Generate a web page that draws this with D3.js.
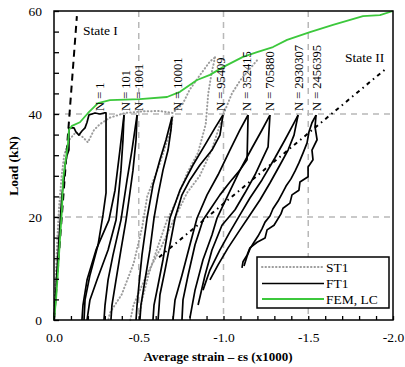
<!DOCTYPE html>
<html><head><meta charset="utf-8">
<script src="https://cdn.jsdelivr.net/npm/d3@7"></script>
<style>
body{margin:0;background:#fff}
svg{display:block}
text{font-family:"Liberation Serif","Times New Roman",serif;fill:#000}
</style>
</head><body>
<svg id="c" width="405" height="367"></svg>
<script>
// ---------- axes / labels ----------
const xTicks=[0,-0.5,-1,-1.5,-2];
const xTickLabels=["0.0","-0.5","-1.0","-1.5","-2.0"];
const yTicks=[0,20,40,60];
const yTickLabels=["0","20","40","60"];
const xGrid=[-0.5,-1,-1.5];
const yGrid=[20,40];

// ---------- reference lines ----------
const stateI=[[0,0],[-0.135,59]];
const stateII=[[-0.62,12.2],[-1.955,48.7]];

// ---------- FEM, LC ----------
const fem=[[0,0],[-0.012,3.9],[-0.024,9.7],[-0.035,15.5],[-0.047,21.4],[-0.053,27.2],[-0.065,30.1],[-0.083,34.4],
 [-0.088,36.9],[-0.106,37.7],[-0.153,38.4],[-0.201,40.2],[-0.260,42.1],[-0.330,42.7],[-0.507,42.9],[-0.667,43.3],
 [-0.743,44.3],[-0.844,46.6],[-0.920,47.6],[-0.997,49.1],[-1.115,51.1],[-1.198,52.0],[-1.292,53.0],[-1.375,54.4],
 [-1.510,55.9],[-1.646,57.3],[-1.823,59.0],[-1.923,59.2],[-2.0,60]];

// ---------- ST1 (static test) ----------
const st1Loading=[[0,0],[-0.005,4],[-0.01,8],[-0.015,12],[-0.02,16],[-0.03,22],[-0.045,28],[-0.06,32],[-0.09,35],
 [-0.13,36.5],[-0.17,35.5],[-0.2,34.5],[-0.236,36.9],[-0.27,38],[-0.33,39.3],[-0.42,40.2],[-0.52,40.5],[-0.62,40.6],
 [-0.70,40.2],[-0.76,42],[-0.80,44.7],[-0.86,47.5],[-0.92,50.2],[-0.95,51.0]];
const st1Unload1=[[-0.70,39.5],[-0.69,37],[-0.62,30],[-0.55,24],[-0.52,18],[-0.47,11],[-0.40,5],[-0.33,1.4],[-0.32,0]];
const st1Reload1=[[-0.45,0],[-0.47,3],[-0.55,9],[-0.63,14],[-0.70,19],[-0.785,24.7],[-0.86,28],[-0.93,33],[-1.0,40],
 [-1.05,44],[-1.10,46.6],[-1.20,50.5]];
const st1Unload2=[[-0.95,51.0],[-0.93,48],[-0.91,44],[-0.895,38],[-0.85,32.5],[-0.785,28.5],[-0.72,23],[-0.667,19.4],
 [-0.61,14],[-0.56,9],[-0.52,4],[-0.50,0]];

// ---------- FT1 (fatigue test) ----------
const ft1First=[[0,0],[-0.006,2.9],[-0.012,5.8],[-0.018,9.7],[-0.024,12.6],[-0.029,15.5],[-0.035,18.4],[-0.041,21.4],
 [-0.047,24.3],[-0.059,27.2],[-0.065,30.1],[-0.077,32.0],[-0.088,33.0],[-0.088,37.3],[-0.118,37.3],[-0.130,36.5],
 [-0.147,35.9],[-0.165,36.7],[-0.183,37.3],[-0.195,38.4],[-0.206,39.8],[-0.224,40.0],[-0.242,40.2],[-0.271,40.0],
 [-0.295,40.2],[-0.307,40.2],[-0.307,24.7],[-0.289,20.4],[-0.260,14.6],[-0.212,8.7],[-0.183,3.9],[-0.177,0]];
const n101a=[[-0.165,0],[-0.171,2.9],[-0.195,7.8],[-0.248,13.6],[-0.324,19.4],[-0.360,25.2],[-0.389,33.0],[-0.413,39.8]];
const n101b=[[-0.413,39.8],[-0.407,35.0],[-0.395,29.1],[-0.378,23.3],[-0.366,19.4],[-0.319,13.6],[-0.254,7.8],[-0.212,3.9],[-0.195,0]];
const n1001a=[[-0.295,0],[-0.301,2.9],[-0.319,7.8],[-0.348,12.6],[-0.395,19.4],[-0.431,27.2],[-0.460,33.0],[-0.490,39.8]];
const n1001b=[[-0.490,39.8],[-0.484,35.0],[-0.466,29.1],[-0.442,23.3],[-0.425,19.4],[-0.395,13.6],[-0.366,7.8],[-0.342,2.9],[-0.336,0]];
const n10001a=[[-0.484,0],[-0.490,2.9],[-0.501,6.8],[-0.519,12.6],[-0.549,19.8],[-0.584,26.2],[-0.625,31.1],[-0.661,35.0],[-0.696,39.4]];
const n10001b=[[-0.696,39.4],[-0.690,36.9],[-0.673,33.0],[-0.643,29.1],[-0.614,24.3],[-0.590,19.8],[-0.566,13.6],[-0.537,7.8],[-0.513,2.9],[-0.507,0]];
const n95409a=[[-0.584,0],[-0.590,2.9],[-0.614,6.8],[-0.643,11.7],[-0.684,19.8],[-0.743,25.2],[-0.820,30.1],[-0.891,34.0],[-0.950,37.3],[-0.997,39.8]];
const n95409b=[[-0.997,39.8],[-0.979,35.9],[-0.932,33.0],[-0.861,30.1],[-0.802,27.2],[-0.755,24.3],[-0.714,19.8],[-0.684,14.6],[-0.655,9.7],[-0.625,4.9],[-0.614,0]];
const n352415a=[[-0.702,0],[-0.714,3.9],[-0.755,8.7],[-0.802,14.6],[-0.844,19.8],[-0.903,24.3],[-0.968,28.2],[-1.038,33.0],[-1.097,36.9],[-1.145,39.8]];
const n352415b=[[-1.145,39.8],[-1.139,31.1],[-1.097,29.1],[-1.038,26.8],[-0.979,24.3],[-0.920,21.4],[-0.879,19.4],[-0.832,14.6],[-0.791,8.7],[-0.761,3.9],[-0.755,0]];
const n705880a=[[-0.802,0.4],[-0.832,5.8],[-0.879,11.7],[-0.932,16.5],[-0.962,19.8],[-1.027,24.3],[-1.097,29.1],[-1.168,33.4],[-1.227,36.9],[-1.274,39.8]];
const n705880b=[[-1.274,39.8],[-1.263,33.6],[-1.227,31.1],[-1.186,28.2],[-1.127,24.7],[-1.068,21.4],[-0.991,18.4],[-0.932,13.6],[-0.891,8.7],[-0.850,2.9]];
const n2930307a=[[-0.879,5.8],[-0.920,9.7],[-0.979,13.6],[-1.038,17.1],[-1.097,20.4],[-1.156,23.7],[-1.227,27.2],[-1.304,31.5],[-1.363,35.0],[-1.410,37.9],[-1.440,39.8]];
const n2930307b=[[-1.440,39.8],[-1.416,35.9],[-1.381,33.0],[-1.333,30.1],[-1.274,26.6],[-1.215,23.3],[-1.156,20.4],[-1.097,17.5],[-1.027,14.0],[-0.968,10.7],[-0.920,7.8]];
const n2456395a=[[-1.121,10.5],[-1.139,12.4],[-1.156,13.8],[-1.180,15.1],[-1.204,16.3],[-1.227,17.7],[-1.245,19.0],[-1.274,20.2],
 [-1.292,21.6],[-1.322,23.1],[-1.345,24.5],[-1.369,26.0],[-1.398,27.4],[-1.422,28.9],[-1.445,30.5],[-1.469,32.4],
 [-1.493,34.4],[-1.504,36.5],[-1.522,38.3],[-1.546,39.8]];
const n2456395b=[[-1.546,39.8],[-1.540,37.5],[-1.552,35.0],[-1.522,33.0],[-1.528,31.1],[-1.499,29.7],[-1.499,27.8],[-1.451,26.8],
 [-1.445,25.2],[-1.404,24.3],[-1.392,22.7],[-1.351,21.7],[-1.339,20.6],[-1.298,18.4],[-1.257,17.5],[-1.245,15.9],
 [-1.198,15.1],[-1.156,14.0],[-1.139,12.6],[-1.115,11.3],[-1.109,10.1]];

const cycleLabels=["N = 1","N = 101","N = 1001","N = 10001","N = 95409","N = 352415","N = 705880","N = 2930307","N = 2456395"];
const cycleLabelStrain=[-0.271,-0.419,-0.501,-0.726,-0.985,-1.133,-1.274,-1.440,-1.546];

const legendNames=["ST1","FT1","FEM, LC"];

// ---------- drawing ----------
const serif='"Liberation Serif","Times New Roman",serif';
const svg=d3.select("#c");
const L=54,R=393,T=11,B=320;
const x=d3.scaleLinear().domain([0,-2]).range([L,R]);
const y=d3.scaleLinear().domain([0,60]).range([B,T]);
const line=d3.line().x(d=>x(d[0])).y(d=>y(d[1]));

const gridC="#b8b8b8";
svg.append("g").selectAll("line").data(xGrid).join("line")
 .attr("x1",d=>x(d)).attr("x2",d=>x(d)).attr("y1",T).attr("y2",B)
 .attr("stroke",gridC).attr("stroke-width",1.5).attr("stroke-dasharray","6,5");
svg.append("g").selectAll("line").data(yGrid).join("line")
 .attr("y1",d=>y(d)).attr("y2",d=>y(d)).attr("x1",L).attr("x2",R)
 .attr("stroke",gridC).attr("stroke-width",1.5).attr("stroke-dasharray","6,5");

const gray="#9c9c9c";
[st1Loading,st1Unload1,st1Reload1,st1Unload2].forEach(s=>{
 svg.append("path").attr("d",line(s)).attr("fill","none").attr("stroke",gray)
  .attr("stroke-width",2).attr("stroke-dasharray","0.5,3").attr("stroke-linecap","round");
});

const ft1=[ft1First,n101a,n101b,n1001a,n1001b,n10001a,n10001b,n95409a,n95409b,n352415a,n352415b,
 n705880a,n705880b,n2930307a,n2930307b,n2456395a,n2456395b];
ft1.forEach(s=>{
 svg.append("path").attr("d",line(s)).attr("fill","none").attr("stroke","#000")
  .attr("stroke-width",1.7).attr("stroke-linejoin","round");
});

svg.append("path").attr("d",line(stateI)).attr("fill","none").attr("stroke","#000")
 .attr("stroke-width",2).attr("stroke-dasharray","7,5");
svg.append("path").attr("d",line(stateII)).attr("fill","none").attr("stroke","#000")
 .attr("stroke-width",2).attr("stroke-dasharray","4,4,1.5,4");

svg.append("path").attr("d",line(fem)).attr("fill","none").attr("stroke","#3cc83c")
 .attr("stroke-width",1.8).attr("stroke-linejoin","round");

// frame
svg.append("rect").attr("x",L).attr("y",T).attr("width",R-L).attr("height",B-T)
 .attr("fill","none").attr("stroke","#000").attr("stroke-width",1.5);

// ticks (inward)
const xMinor=d3.range(0,-2.001,-0.1);
const yMinor=d3.range(0,60.001,4);
svg.append("g").attr("transform",`translate(0,${B})`)
 .call(d3.axisBottom(x).tickValues(xMinor).tickSize(-4).tickFormat(""))
 .call(g=>{g.select(".domain").remove();g.selectAll("line").attr("stroke-width",1.3);});
svg.append("g").attr("transform",`translate(${L},0)`)
 .call(d3.axisLeft(y).tickValues(yMinor).tickSize(-5).tickFormat(""))
 .call(g=>{g.select(".domain").remove();g.selectAll("line").attr("stroke-width",1.3);});

// tick labels
svg.append("g").attr("transform",`translate(0,${B})`)
 .call(d3.axisBottom(x).tickValues(xTicks).tickSize(0).tickPadding(12).tickFormat((d,i)=>xTickLabels[i]))
 .attr("font-family",serif).attr("font-size",13.5)
 .call(g=>{g.select(".domain").remove();g.selectAll("text").attr("fill","#000");});
svg.append("g").attr("transform",`translate(${L},0)`)
 .call(d3.axisLeft(y).tickValues(yTicks).tickSize(0).tickPadding(12).tickFormat((d,i)=>yTickLabels[i]))
 .attr("font-family",serif).attr("font-size",13.5)
 .call(g=>{g.select(".domain").remove();g.selectAll("text").attr("fill","#000");});

// axis titles
svg.append("text").attr("x",218).attr("y",361).attr("text-anchor","middle")
 .style("font-weight","bold").style("font-size","13px").text("Average strain – εs (x1000)");
svg.append("text").attr("transform","translate(18,166) rotate(-90)").attr("text-anchor","middle")
 .style("font-weight","bold").style("font-size","13.5px").text("Load (kN)");

// annotations
svg.append("text").attr("x",83).attr("y",35).style("font-size","13.5px").text("State I");
svg.append("text").attr("x",345).attr("y",62).style("font-size","13.5px").text("State II");
svg.append("g").selectAll("text").data(cycleLabels).join("text")
 .attr("transform",(d,i)=>`translate(${x(cycleLabelStrain[i])+4.5},111) rotate(-90)`)
 .style("font-size","12.5px").text(d=>d);

// legend
const lg=svg.append("g");
lg.append("rect").attr("x",257).attr("y",257).attr("width",132).attr("height",51)
 .attr("fill","#fff").attr("stroke","#000").attr("stroke-width",1.5);
const ly=[267,283.5,299];
const lstyles=[{c:gray,w:2,da:"0.5,3",cap:"round"},{c:"#000",w:1.7,da:null,cap:"butt"},{c:"#3cc83c",w:1.8,da:null,cap:"butt"}];
legendNames.forEach((n,i)=>{
 const l=lg.append("line").attr("x1",262).attr("x2",324).attr("y1",ly[i]).attr("y2",ly[i])
  .attr("stroke",lstyles[i].c).attr("stroke-width",lstyles[i].w).attr("stroke-linecap",lstyles[i].cap);
 if(lstyles[i].da) l.attr("stroke-dasharray",lstyles[i].da);
 lg.append("text").attr("x",326).attr("y",ly[i]+4.5).style("font-size","13.5px").text(n);
});
</script>
</body></html>
